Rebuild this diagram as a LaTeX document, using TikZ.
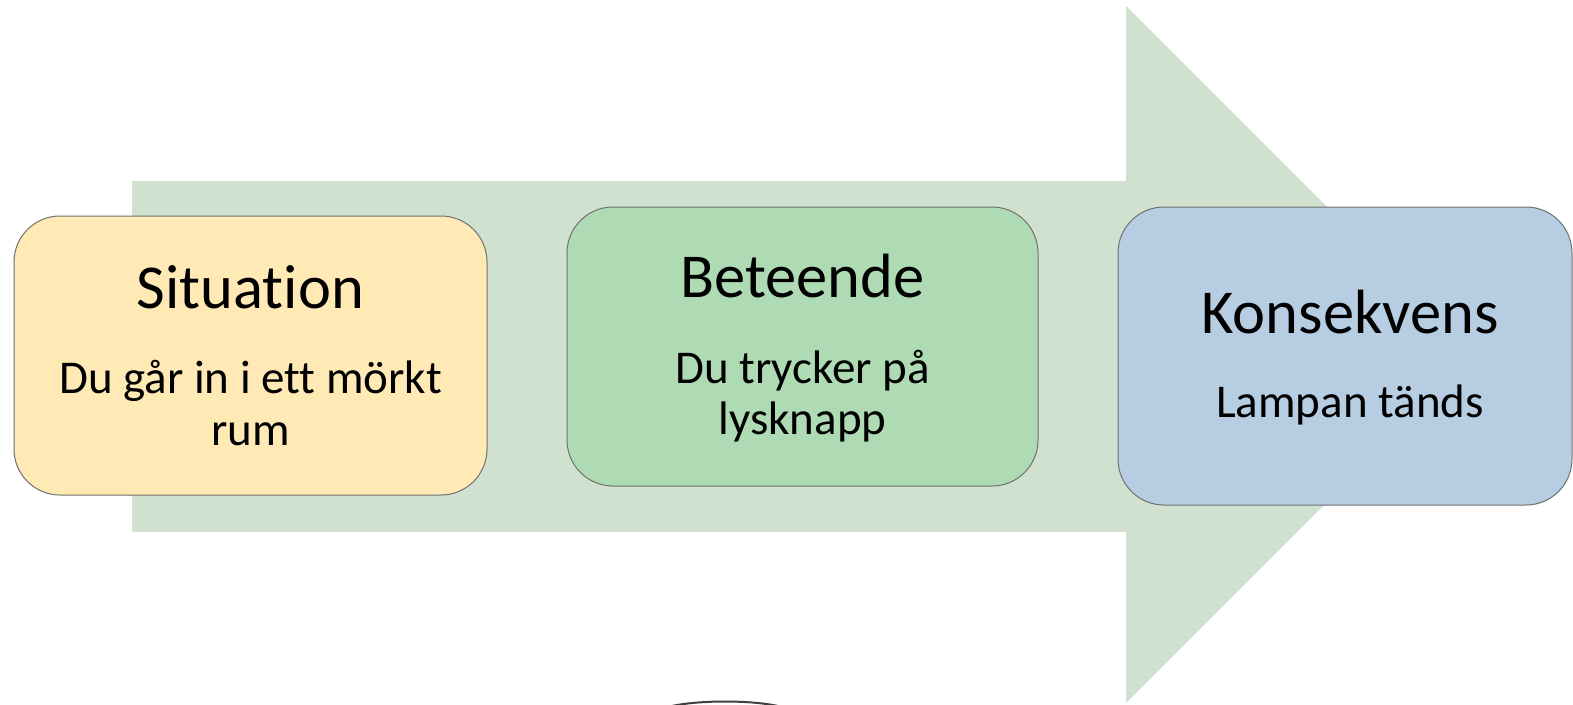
\documentclass[tikz,border=0pt]{standalone}
\usepackage{fontspec}
\setmainfont{Carlito}[RawFeature=-liga]
\definecolor{arrowfill}{HTML}{D0E1CF}
\definecolor{sitfill}{HTML}{FFE9B5}
\definecolor{betfill}{HTML}{AEDBB3}
\definecolor{konfill}{HTML}{B7CDE2}
\definecolor{boxline}{HTML}{707070}
\begin{document}
\begin{tikzpicture}[x=1pt,y=-1pt,
  card/.style={draw=boxline, line width=1pt, rounded corners=46pt},
  titletext/.style={anchor=base, inner sep=0pt, font=\fontsize{62.5}{62}\selectfont},
  bodytext/.style={anchor=base, inner sep=0pt, font=\fontsize{47}{52}\selectfont}
]
\useasboundingbox (0,0) rectangle (1573,704);
\fill[white] (0,0) rectangle (1573,704);
% big background arrow
\fill[arrowfill] (132,181) -- (1126,181) -- (1126,6) -- (1474.5,354.5)
  -- (1126,703) -- (1126,532) -- (132,532) -- cycle;
% cards
\draw[card, fill=sitfill] (14,216) rectangle (487,495);
\draw[card, fill=betfill] (567,207) rectangle (1038,486);
\draw[card, fill=konfill] (1118,207) rectangle (1572,505);
% texts
\node[titletext] (sit) at (250.5,308) {Situation};
\node[bodytext] (sitb1) at (250.5,393) {Du går in i ett mörkt};
\node[bodytext] (sitb2) at (250.5,445) {rum};
\node[titletext] (bet) at (802.5,297) {Beteende};
\node[bodytext] (betb1) at (802.5,383) {Du trycker på};
\node[bodytext] (betb2) at (802.5,434) {lysknapp};
\node[titletext] (kon) at (1350,333) {Konsekvens};
\node[bodytext] (konb) at (1350,417) {Lampan tänds};
% small dark fragment at the bottom edge
\draw[black!75, line width=2pt] (672,706) .. controls (700,700) and (750,700) .. (778,706);
\end{tikzpicture}
\end{document}
